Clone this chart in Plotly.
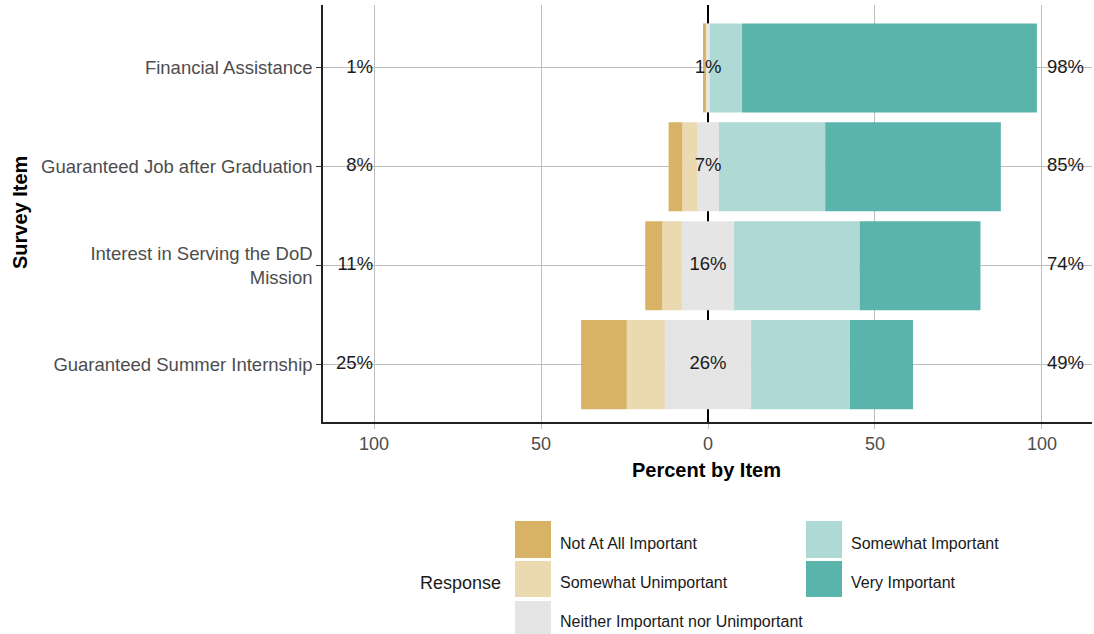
import numpy as np
import plotly.graph_objects as go

items = ["Guaranteed Summer Internship", "Interest in Serving the DoD<br>Mission",
         "Guaranteed Job after Graduation", "Financial Assistance"]
responses = ["Not At All Important", "Somewhat Unimportant",
             "Neither Important nor Unimportant", "Somewhat Important", "Very Important"]
colors = ["#D8B365", "#EBD9B0", "#E5E5E5", "#AED9D5", "#5AB4AC"]

not_at_all = [13.7, 5.2, 4.2, 1.0]
somewhat_unimp = [11.4, 5.8, 4.3, 0.0]
neither = [25.8, 15.6, 6.6, 1.0]
somewhat_imp = [29.6, 37.6, 31.8, 9.7]
very_imp = [18.9, 36.2, 52.6, 88.3]

low_pct = ["25%", "11%", "8%", "1%"]
mid_pct = ["26%", "16%", "7%", "1%"]
high_pct = ["49%", "74%", "85%", "98%"]

vals = np.array([not_at_all, somewhat_unimp, neither, somewhat_imp, very_imp])
ypos = np.arange(len(items))
start = -(vals[0] + vals[1] + vals[2] / 2)
bases = start + np.vstack([np.zeros(len(items)), np.cumsum(vals, axis=0)[:-1]])

FONT = "Liberation Sans, Arial"
fig = go.Figure()
for i, name in enumerate(responses):
    fig.add_trace(go.Bar(y=ypos, x=vals[i], base=bases[i], orientation="h",
                         width=0.9, marker=dict(color=colors[i], line=dict(width=0)),
                         name=name, showlegend=False, hoverinfo="skip"))

lab_font = dict(family=FONT, size=18.5, color="#1A1A1A")
fig.add_trace(go.Scatter(x=[-100.3] * 4, y=ypos, mode="text", text=low_pct,
                         textposition="middle left", textfont=lab_font,
                         showlegend=False, hoverinfo="skip"))
fig.add_trace(go.Scatter(x=[0] * 4, y=ypos, mode="text", text=mid_pct,
                         textfont=lab_font, showlegend=False, hoverinfo="skip"))
fig.add_trace(go.Scatter(x=[101.5] * 4, y=ypos, mode="text", text=high_pct,
                         textposition="middle right", textfont=lab_font,
                         showlegend=False, hoverinfo="skip"))

L, R, T, B = 323, 1092, 5, 422
W, H = R - L, B - T
def px(x): return (x - L) / W
def py(y): return (B - y) / H

shapes = []
annos = []
key_cols = [(515, 551, 558), (806, 842, 849)]
key_rows = [(521, 558, 543), (561, 597, 582), (601, 638, 621)]
positions = [(0, 0), (0, 1), (0, 2), (1, 0), (1, 1)]
for (c, r), name, col in zip(positions, responses, colors):
    x0, x1, tx = key_cols[c]
    y0, y1, ty = key_rows[r]
    shapes.append(dict(type="rect", xref="paper", yref="paper", x0=px(x0), x1=px(x1),
                       y0=py(y0), y1=py(y1), fillcolor=col, line=dict(width=0)))
    annos.append(dict(xref="paper", yref="paper", x=px(tx), y=py(ty), text=name,
                      showarrow=False, xanchor="left", yanchor="middle",
                      font=dict(family=FONT, size=16, color="#1A1A1A")))
annos.append(dict(xref="paper", yref="paper", x=px(503), y=py(583), text="Response",
                  showarrow=False, xanchor="right", yanchor="middle",
                  font=dict(family=FONT, size=18, color="#1A1A1A")))
annos.append(dict(xref="paper", yref="paper", x=px(706), y=py(470), text="<b>Percent by Item</b>",
                  showarrow=False, xanchor="center", yanchor="middle",
                  font=dict(family=FONT, size=20, color="black")))
annos.append(dict(xref="paper", yref="paper", x=px(20), y=py(213), text="<b>Survey Item</b>",
                  showarrow=False, xanchor="center", yanchor="middle", textangle=-90,
                  font=dict(family=FONT, size=20, color="black")))

fig.update_layout(
    width=1094, height=634, barmode="overlay",
    margin=dict(l=L, r=1094 - R, t=T, b=634 - B),
    paper_bgcolor="white", plot_bgcolor="white",
    shapes=shapes, annotations=annos,
    font=dict(family=FONT),
    xaxis=dict(range=[-115.3, 115], tickvals=[-100, -50, 0, 50, 100],
               ticktext=["100", "50", "0", "50", "100"],
               showgrid=True, gridcolor="#BEBEBE", gridwidth=1,
               zeroline=True, zerolinecolor="black", zerolinewidth=1.5,
               showline=True, linecolor="#222222", linewidth=1.5,
               ticks="outside", ticklen=5, tickcolor="#BEBEBE",
               tickfont=dict(size=18, color="#4D4D4D")),
    yaxis=dict(range=[-0.58, 3.636], tickvals=ypos, ticktext=items,
               showgrid=True, gridcolor="#BEBEBE", gridwidth=1, zeroline=False,
               showline=True, linecolor="#222222", linewidth=1.5,
               ticks="outside", ticklen=5, tickcolor="#333333",
               tickfont=dict(size=18.5, color="#4D4D4D")),
)
fig.write_html("out.html", config={"displayModeBar": False},
               post_script="document.body.style.margin='0px';")
